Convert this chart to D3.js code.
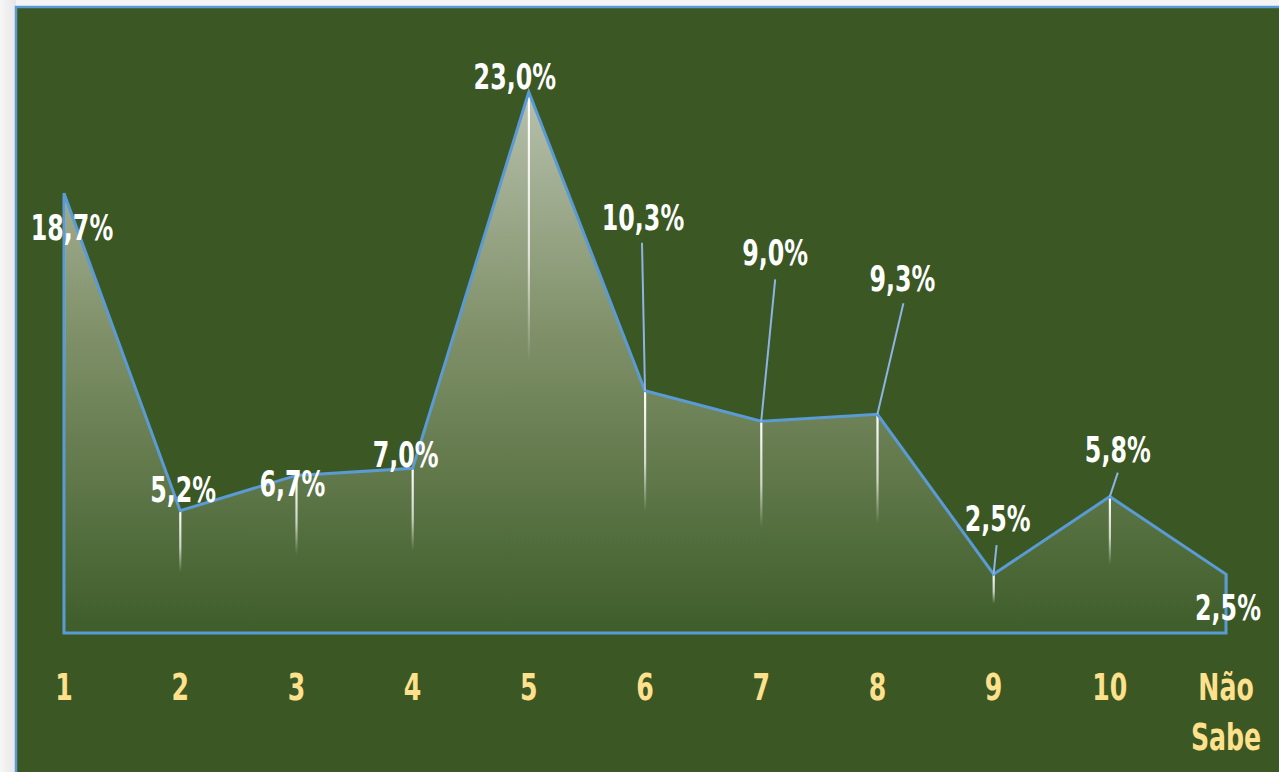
<!DOCTYPE html>
<html><head><meta charset="utf-8">
<script src="https://cdn.jsdelivr.net/npm/d3@7"></script>
<style>
html,body{margin:0;padding:0;background:#f2f2f2;overflow:hidden}
</style></head>
<body>
<svg id="chart" width="1279" height="772"></svg>
<script>
const categories = ["1","2","3","4","5","6","7","8","9","10","Não Sabe"];
const values = [18.7, 5.2, 6.7, 7.0, 23.0, 10.3, 9.0, 9.3, 2.5, 5.8, 2.5];
const valueLabels = ["18,7%","5,2%","6,7%","7,0%","23,0%","10,3%","9,0%","9,3%","2,5%","5,8%","2,5%"];

// label layout (pixel offsets from point), leader flag
const labelLayout = [
  {dx:8, dy:47, leader:false},
  {dx:3, dy:-9, leader:false},
  {dx:-4, dy:21, leader:false},
  {dx:-7, dy:-1, leader:false},
  {dx:-14, dy:-3, leader:false},
  {dx:-2, dy:-161, leader:true, lx:-3, ly:-148},
  {dx:14, dy:-156, leader:true, lx:14, ly:-142},
  {dx:25, dy:-123, leader:true, lx:26, ly:-111},
  {dx:4, dy:-43, leader:true, lx:3, ly:-29},
  {dx:8, dy:-35, leader:true, lx:8, ly:-24},
  {dx:2, dy:46, leader:false}
];

const svg = d3.select("#chart");
const W = 1279, H = 772;

const defs = svg.append("defs");
const sh = defs.append("linearGradient").attr("id","pageShade").attr("x1",0).attr("x2",1).attr("y1",0).attr("y2",0);
sh.append("stop").attr("offset","0").attr("stop-color","#f7f7f7");
sh.append("stop").attr("offset","1").attr("stop-color","#e6e6e6");
svg.append("rect").attr("x",0).attr("y",0).attr("width",W).attr("height",H).attr("fill","#f3f3f3");
svg.append("rect").attr("x",0).attr("y",0).attr("width",16).attr("height",H).attr("fill","url(#pageShade)");
svg.append("rect").attr("x",16).attr("y",7).attr("width",W).attr("height",H).attr("fill","#3a5724")
   .attr("stroke","#5b9bd5").attr("stroke-width",2.5);

const x = d3.scalePoint().domain(categories).range([64, 1226]);
const y = d3.scaleLinear().domain([0, 23.0]).range([633, 92]);

const pts = categories.map((c,i)=>({c, v:values[i], x:x(c), y:y(values[i]), i}));

const g = defs.append("linearGradient").attr("id","areaGrad")
  .attr("gradientUnits","userSpaceOnUse").attr("x1",0).attr("x2",0).attr("y1",y(23)).attr("y2",y(0));
g.append("stop").attr("offset","0").attr("stop-color","#b7c0ac");
g.append("stop").attr("offset","0.45").attr("stop-color","#7f9068");
g.append("stop").attr("offset","1").attr("stop-color","#3e5d29");

const area = d3.area().x(d=>d.x).y0(y(0)).y1(d=>d.y);
svg.append("path").datum(pts).attr("d",area).attr("fill","url(#areaGrad)");

pts.forEach((p,i)=>{
  const len = (y(0)-p.y)/2;
  const gid = "drop"+i;
  const lg = defs.append("linearGradient").attr("id",gid).attr("gradientUnits","userSpaceOnUse")
    .attr("x1",0).attr("x2",0).attr("y1",p.y).attr("y2",p.y+len);
  lg.append("stop").attr("offset","0").attr("stop-color","#ffffff").attr("stop-opacity",1);
  lg.append("stop").attr("offset","0.6").attr("stop-color","#ffffff").attr("stop-opacity",0.7);
  lg.append("stop").attr("offset","1").attr("stop-color","#ffffff").attr("stop-opacity",0);
  svg.append("rect").attr("x",p.x-1).attr("y",p.y).attr("width",2.2).attr("height",len).attr("fill",`url(#${gid})`);
});

const outline = d3.line().x(d=>d[0]).y(d=>d[1]);
const ring = [[pts[0].x,y(0)], ...pts.map(p=>[p.x,p.y]), [pts[pts.length-1].x,y(0)]];
svg.append("path").attr("d", outline(ring)+"Z").attr("fill","none")
  .attr("stroke","#5b9bd5").attr("stroke-width",3).attr("stroke-linejoin","miter");

pts.forEach((p,i)=>{
  const L = labelLayout[i];
  if(!L.leader) return;
  svg.append("line").attr("x1",p.x).attr("y1",p.y).attr("x2",p.x+L.lx).attr("y2",p.y+L.ly)
    .attr("stroke","#8db4e2").attr("stroke-width",2);
});

const font = "'DejaVu Sans Condensed','DejaVu Sans',sans-serif";
const SX = 0.8, SY = 1.05;

pts.forEach((p,i)=>{
  const L = labelLayout[i];
  svg.append("g").attr("transform",`translate(${p.x+L.dx},${p.y+L.dy}) scale(${SX},${SY})`)
    .append("text").attr("x",0).attr("y",0)
    .attr("text-anchor","middle").attr("font-family",font).attr("font-weight","bold")
    .attr("font-size",33).attr("fill","#ffffff").text(valueLabels[i]);
});

categories.forEach(c=>{
  const words = c.split(" ");
  words.forEach((w,k)=>{
    svg.append("g").attr("transform",`translate(${x(c)},${700 + k*50}) scale(${SX},${SY})`)
      .append("text").attr("x",0).attr("y",0).attr("text-anchor","middle")
      .attr("font-family",font).attr("font-weight","bold").attr("font-size",35).attr("fill","#ffe08c")
      .text(w);
  });
});
</script>
</body></html>
